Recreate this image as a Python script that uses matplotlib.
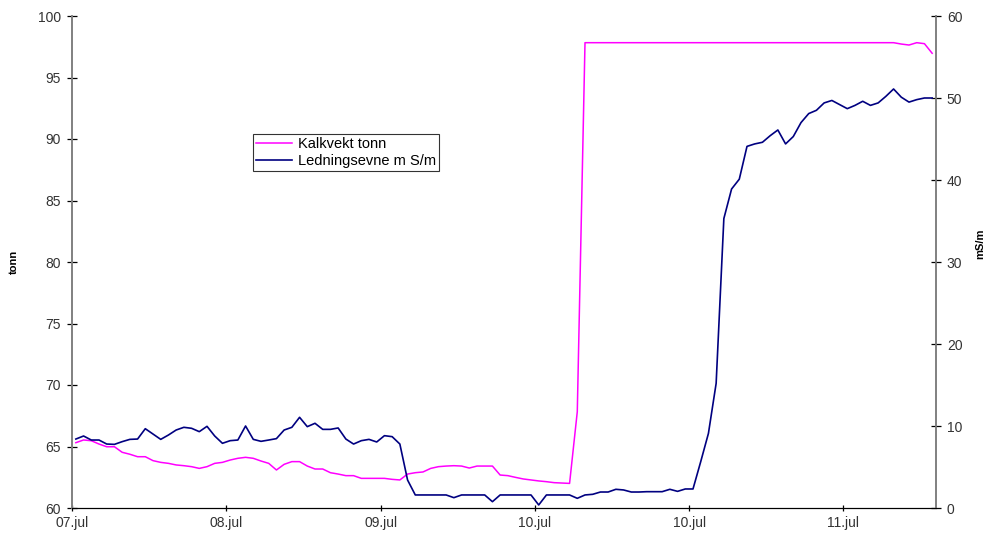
import numpy as np
import matplotlib.pyplot as plt

plt.rcParams['font.family'] = ['Liberation Sans', 'DejaVu Sans']

# Kalkvekt (tonn), one value per sample
kalkvekt = [65.31, 65.53, 65.47, 65.2, 64.98, 64.98, 64.53, 64.37, 64.17, 64.17,
            63.85, 63.71, 63.63, 63.5, 63.44, 63.36, 63.22, 63.36, 63.63, 63.71,
            63.9, 64.04, 64.12, 64.04, 63.82, 63.63, 63.09, 63.55, 63.77, 63.77,
            63.41, 63.17, 63.17, 62.87, 62.76, 62.63, 62.63, 62.41, 62.41, 62.41,
            62.41, 62.33, 62.28, 62.76, 62.87, 62.93, 63.22, 63.36, 63.41, 63.44,
            63.41, 63.25, 63.41, 63.41, 63.41, 62.68, 62.63, 62.49, 62.36, 62.28,
            62.2, 62.14, 62.06, 62.03, 62.0, 67.83] + [97.83] * 41 + \
           [97.72, 97.64, 97.83, 97.75, 96.97]

# Ledningsevne (mS/m)
ledningsevne = [8.41, 8.78, 8.29, 8.29, 7.8, 7.76, 8.09, 8.37, 8.41, 9.67,
                9.02, 8.37, 8.9, 9.51, 9.84, 9.72, 9.31, 9.96, 8.78, 7.89,
                8.21, 8.29, 10.0, 8.37, 8.13, 8.29, 8.46, 9.51, 9.84, 11.06,
                9.92, 10.33, 9.59, 9.59, 9.76, 8.41, 7.8, 8.21, 8.37, 8.05,
                8.82, 8.70, 7.8, 3.41, 1.59, 1.59, 1.59, 1.59, 1.59, 1.26,
                1.59, 1.59, 1.59, 1.59, 0.77, 1.59, 1.59, 1.59, 1.59, 1.59,
                0.37, 1.59, 1.59, 1.59, 1.59, 1.18, 1.59, 1.67, 1.95, 1.95,
                2.28, 2.2, 1.95, 1.95, 1.99, 1.99, 1.99, 2.28, 2.03, 2.32,
                2.32, 5.65, 9.1, 15.2, 35.3, 38.9, 40.1, 44.1, 44.4, 44.6,
                45.4, 46.1, 44.4, 45.3, 47.0, 48.1, 48.5, 49.4, 49.7, 49.2,
                48.7, 49.1, 49.6, 49.1, 49.4, 50.2, 51.1, 50.1, 49.5, 49.8,
                50.0, 50.0]

tick_pos = [0, 20, 40, 60, 80, 100]
tick_labels = ['07.jul', '08.jul', '09.jul', '10.jul', '10.jul', '11.jul']

n = len(kalkvekt)
x = np.arange(n) + 0.5

fig = plt.figure(figsize=(9.86, 5.35), dpi=100)
ax = fig.add_axes([72 / 986, 27 / 535, 864 / 986, 492 / 535])
ax2 = ax.twinx()

l1, = ax.plot(x, kalkvekt, color='#ff00ff', lw=1.1, label='Kalkvekt tonn')
l2, = ax2.plot(x, ledningsevne, color='#000080', lw=1.2, label='Ledningsevne m S/m')

ax.set_xlim(0, n)
ax.set_ylim(60, 100)
ax2.set_ylim(0, 60)
ax.set_yticks(range(60, 101, 5))
ax2.set_yticks(range(0, 61, 10))
ax.set_xticks(tick_pos)
ax.set_xticklabels(tick_labels)

for a in (ax, ax2):
    a.spines['top'].set_visible(False)
    a.spines['bottom'].set_color('black')
    a.spines['left'].set_color('#808080')
    a.spines['right'].set_color('#808080')
    a.spines['left'].set_linewidth(1.2)
    a.spines['right'].set_linewidth(1.2)

tick_style = dict(direction='inout', width=0.9, colors='black',
                  labelsize=10, labelcolor='#333333')
ax.tick_params(axis='y', length=7.5, pad=4, **tick_style)
ax2.tick_params(axis='y', length=7.5, pad=4, **tick_style)
ax.tick_params(axis='x', length=5, pad=3, **tick_style)

ax.set_ylabel('tonn', fontsize=8, fontweight='bold')
ax2.set_ylabel('mS/m', fontsize=8, fontweight='bold')
for lab in (ax.yaxis.label, ax2.yaxis.label):
    lab.set_ha('center')
    lab.set_va('center')
ax.yaxis.set_label_coords(-0.067, 0.50)
ax2.yaxis.set_label_coords(1.051, 0.537)

leg = ax2.legend(handles=[l1, l2], loc='upper left', bbox_to_anchor=(0.2095, 0.760),
                 borderaxespad=0, fontsize=10.5, frameon=True, fancybox=False,
                 handlelength=2.5, handletextpad=0.4, borderpad=0.2, labelspacing=0.2)
leg.get_frame().set_edgecolor('black')
leg.get_frame().set_linewidth(0.8)

fig.savefig('out.png', dpi=100)
